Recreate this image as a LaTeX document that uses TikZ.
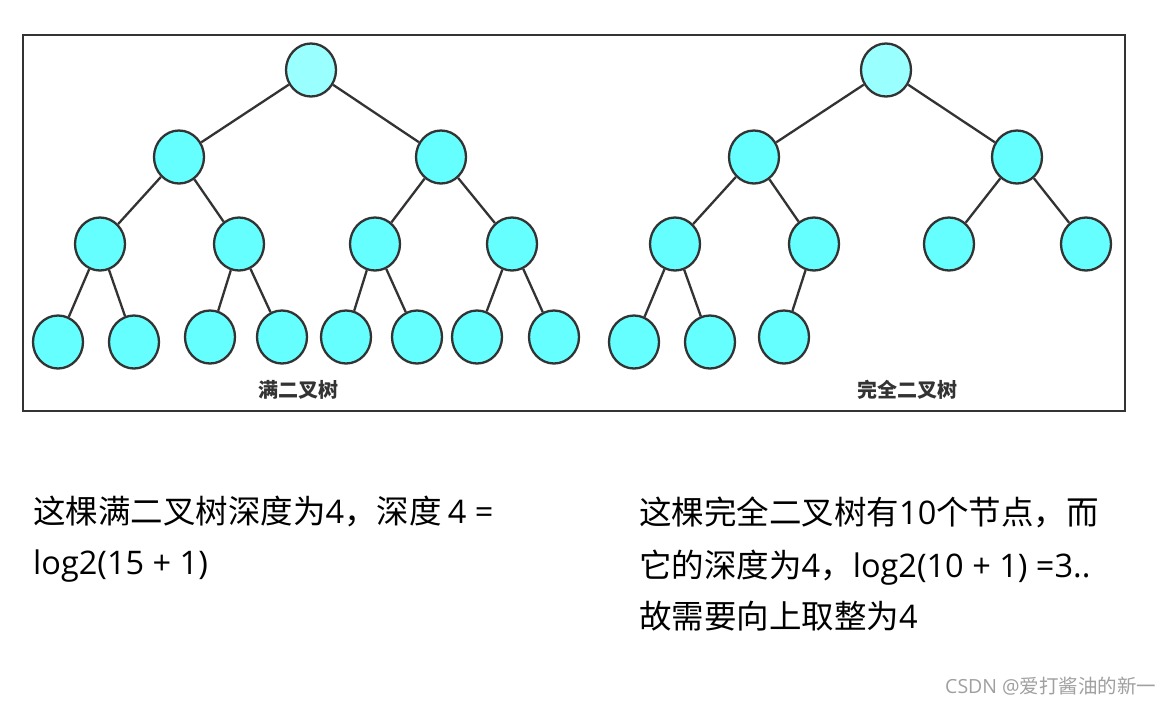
\documentclass[tikz,border=0pt]{standalone}
\usepackage{fontspec}
\setmainfont{Noto Sans CJK SC}
\newfontfamily\latfam[WordSpace=1.6]{Open Sans}
\newcommand{\lat}{\latfam}
\newfontfamily\latwm{Open Sans}
\usetikzlibrary{shapes.geometric}
\definecolor{nodefill}{HTML}{66FFFF}
\definecolor{rootfill}{HTML}{99FFFF}
\definecolor{edgecol}{HTML}{333333}
\definecolor{wmcol}{HTML}{A0A0A0}
\tikzset{
  tnode/.style={ellipse, draw=edgecol, line width=2.3pt, fill=nodefill, minimum width=50pt, minimum height=53pt, inner sep=0pt},
  troot/.style={tnode, fill=rootfill},
  tedge/.style={draw=edgecol, line width=2.3pt},
  tlabel/.style={font=\fontsize{20}{22}\selectfont\bfseries, text=edgecol, inner sep=0pt},
  body/.style={font=\fontsize{32.5}{36}\selectfont, text=black, inner sep=0pt, anchor=base west},
  wm/.style={font=\fontsize{19.5}{22}\selectfont, text=wmcol, inner sep=0pt, anchor=base west}
}
\begin{document}
\begin{tikzpicture}[x=1pt,y=-1pt]
\useasboundingbox (0,0) rectangle (1171,705);
\fill[white] (0,0) rectangle (1171,705);
\draw[draw=edgecol, line width=2.8pt] (23,35) rectangle (1125,411);
% full binary tree
\node[troot] (a) at (311,70) {};
\node[tnode] (b1) at (179,157) {};
\node[tnode] (b2) at (441,157) {};
\node[tnode] (c1) at (100,244) {};
\node[tnode] (c2) at (239,244) {};
\node[tnode] (c3) at (375,244) {};
\node[tnode] (c4) at (512,244) {};
\node[tnode] (d1) at (58,342) {};
\node[tnode] (d2) at (134,342) {};
\node[tnode] (d3) at (210,337) {};
\node[tnode] (d4) at (282,337) {};
\node[tnode] (d5) at (346,337) {};
\node[tnode] (d6) at (417,337) {};
\node[tnode] (d7) at (477,337) {};
\node[tnode] (d8) at (554,337) {};
\draw[tedge] (a) -- (b1); \draw[tedge] (a) -- (b2);
\draw[tedge] (b1) -- (c1); \draw[tedge] (b1) -- (c2);
\draw[tedge] (b2) -- (c3); \draw[tedge] (b2) -- (c4);
\draw[tedge] (c1) -- (d1); \draw[tedge] (c1) -- (d2);
\draw[tedge] (c2) -- (d3); \draw[tedge] (c2) -- (d4);
\draw[tedge] (c3) -- (d5); \draw[tedge] (c3) -- (d6);
\draw[tedge] (c4) -- (d7); \draw[tedge] (c4) -- (d8);
\node[tlabel] (lfull) at (298,390) {满二叉树};
% complete binary tree
\node[troot] (p) at (886,70) {};
\node[tnode] (q1) at (754,157) {};
\node[tnode] (q2) at (1017,157) {};
\node[tnode] (r1) at (675,244) {};
\node[tnode] (r2) at (814,244) {};
\node[tnode] (r3) at (949,244) {};
\node[tnode] (r4) at (1086,244) {};
\node[tnode] (s1) at (634,342) {};
\node[tnode] (s2) at (710,342) {};
\node[tnode] (s3) at (784,337) {};
\draw[tedge] (p) -- (q1); \draw[tedge] (p) -- (q2);
\draw[tedge] (q1) -- (r1); \draw[tedge] (q1) -- (r2);
\draw[tedge] (q2) -- (r3); \draw[tedge] (q2) -- (r4);
\draw[tedge] (r1) -- (s1); \draw[tedge] (r1) -- (s2);
\draw[tedge] (r2) -- (s3);
\node[tlabel] (lcomp) at (907,390) {完全二叉树};
% texts
\node[body] (t1) at (33,523) {这棵满二叉树深度为{\lat 4}，深度{\lat\hspace{6pt}4 =}};
\node[body] (t2) at (33,574) {\lat log2(15 + 1)};
\node[body] (u1) at (639,524) {这棵完全二叉树有{\lat 10}个节点，而};
\node[body] (u2) at (639,577) {它的深度为{\lat 4}，{\lat log2(10 + 1) =3..}};
\node[body] (u3) at (639,628) {故需要向上取整为{\lat 4}};
\node[wm] (w) at (945,693) {{\latwm CSDN @}爱打酱油的新一};
\end{tikzpicture}
\end{document}
